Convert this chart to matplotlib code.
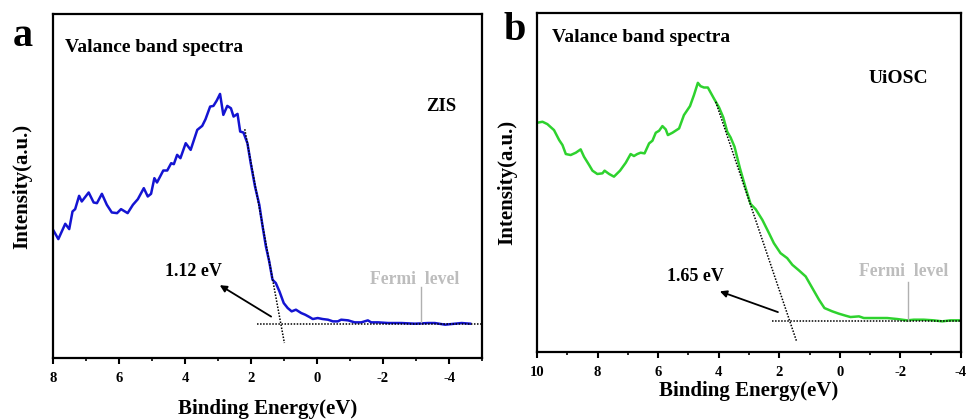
import matplotlib
matplotlib.use("Agg")
import matplotlib.pyplot as plt
from matplotlib.ticker import MultipleLocator, NullLocator

plt.rcParams['font.family'] = ['Liberation Serif', 'DejaVu Serif']
plt.rcParams['font.weight'] = 'bold'
plt.rcParams['axes.unicode_minus'] = False

# Panel a: ZIS
zis_energy = [8.00, 7.84, 7.63, 7.51, 7.41, 7.33, 7.21, 7.13, 6.92, 6.77, 6.67, 6.52, 6.37, 6.22,
              6.06, 5.94, 5.74, 5.58, 5.43, 5.25, 5.13, 5.03, 4.93, 4.85, 4.66, 4.54, 4.42, 4.34,
              4.24, 4.14, 3.98, 3.83, 3.63, 3.48, 3.38, 3.24, 3.14, 3.04, 2.94, 2.84, 2.72, 2.61,
              2.53, 2.41, 2.33, 2.23, 2.11, 2.01, 1.88, 1.75, 1.65, 1.55, 1.45, 1.35, 1.25, 1.14,
              1.01, 0.89, 0.77, 0.64, 0.48, 0.36, 0.23, 0.13, -0.02, -0.17, -0.33, -0.48, -0.63,
              -0.73, -0.94, -1.14, -1.34, -1.54, -1.64, -1.85, -2.15, -2.56, -2.96, -3.37, -3.57,
              -3.88, -4.18, -4.38, -4.64]
zis_intensity = [38.5, 35.7, 40.3, 38.7, 44.0, 44.7, 48.7, 47.0, 49.7, 46.7, 46.5, 49.3, 46.0, 43.7,
                 43.5, 44.7, 43.5, 46.0, 47.7, 51.0, 48.5, 49.3, 54.0, 52.7, 56.3, 56.3, 58.5, 58.2,
                 61.0, 60.0, 64.5, 62.5, 68.5, 69.7, 71.7, 75.5, 75.7, 77.3, 79.3, 73.0, 75.7, 75.0,
                 72.5, 73.3, 68.0, 67.7, 64.5, 58.5, 51.5, 46.0, 39.5, 33.5, 29.0, 23.5, 22.5, 20.0,
                 16.5, 15.0, 14.0, 14.5, 13.5, 13.0, 12.3, 11.7, 12.0, 11.7, 11.5, 11.0, 11.0,
                 11.5, 11.3, 10.7, 10.7, 11.3, 10.7, 10.7, 10.5, 10.5, 10.3, 10.5, 10.5,
                 10.0, 10.3, 10.5, 10.3]

# Panel b: UiOSC
uio_energy = [10.00, 9.82, 9.66, 9.44, 9.27, 9.16, 9.05, 8.89, 8.72, 8.56, 8.45, 8.28, 8.17, 8.01,
              7.84, 7.77, 7.62, 7.46, 7.26, 7.07, 6.91, 6.80, 6.69, 6.58, 6.45, 6.30, 6.19, 6.08,
              5.97, 5.86, 5.75, 5.68, 5.53, 5.31, 5.15, 4.95, 4.82, 4.69, 4.60, 4.49, 4.36, 4.16,
              3.99, 3.85, 3.72, 3.61, 3.48, 3.30, 3.11, 2.95, 2.78, 2.56, 2.34, 2.18, 1.96, 1.74,
              1.57, 1.35, 1.13, 0.91, 0.69, 0.51, 0.25, 0.03, -0.19, -0.35, -0.63, -0.79, -1.12,
              -1.56, -1.89, -2.22, -2.44, -2.77, -3.10, -3.38, -3.65, -4.00]
uio_intensity = [68.9, 69.2, 68.5, 66.7, 63.7, 62.2, 59.5, 59.2, 59.9, 60.9, 58.7, 56.2, 54.5, 53.5,
                 53.7, 54.5, 53.5, 52.7, 54.5, 56.9, 59.5, 58.9, 59.5, 59.9, 59.7, 62.7, 63.5, 65.9,
                 66.5, 67.9, 66.9, 65.2, 65.9, 67.2, 71.2, 73.9, 77.2, 80.9, 79.9, 79.5, 79.5, 76.2,
                 73.5, 70.5, 66.2, 64.5, 61.7, 55.2, 49.2, 44.5, 42.9, 39.7, 35.7, 32.7, 29.7, 28.2,
                 26.2, 24.5, 22.7, 19.2, 15.7, 13.2, 12.2, 11.5, 10.9, 10.5, 10.7, 10.2, 10.2,
                 10.2, 9.9, 9.5, 9.7, 9.7, 9.5, 9.2, 9.5, 9.5]

zis_edge = [(2.19, 68.7), (0.99, 4.5)]
zis_base = [(1.82, 10.3), (-4.99, 10.3)]
zis_arrow = [(1.32, 12.0), (3.02, 22.3)]
zis_fermi = [(-3.15, 21.3), (-3.15, 10.7)]
uio_edge = [(4.10, 75.2), (1.43, 3.2)]
uio_base = [(2.23, 9.4), (-4.0, 9.4)]
uio_arrow = [(1.96, 11.7), (4.05, 18.5)]
uio_fermi = [(-2.24, 20.9), (-2.24, 9.5)]

fig = plt.figure(figsize=(9.68, 4.19), dpi=100)
ax_a = fig.add_axes([0.0548, 0.1456, 0.4432, 0.821])
ax_b = fig.add_axes([0.5548, 0.160, 0.438, 0.809])


def style(ax, xlim, ylim, ticks, xpad, ypad):
    ax.set_xlim(*xlim)
    ax.set_ylim(*ylim)
    ax.set_xticks(ticks)
    ax.xaxis.set_minor_locator(MultipleLocator(1))
    ax.yaxis.set_major_locator(NullLocator())
    for s in ax.spines.values():
        s.set_linewidth(1.6)
    ax.tick_params(axis='x', which='major', direction='out', length=4, width=1.5,
                   labelsize=10.5, pad=6)
    ax.tick_params(axis='x', which='minor', direction='out', length=2.5, width=1.2)
    for lab in ax.get_xticklabels():
        lab.set_fontweight('bold')
    ax.set_xlabel('Binding Energy(eV)', fontsize=15, fontweight='bold', labelpad=xpad)
    ax.set_ylabel('Intensity(a.u.)', fontsize=15, fontweight='bold', labelpad=ypad)


def draw(ax, energy, intensity, color, edge, base, arrow, fermi, value_text, text_pos,
         fermi_pos, sample, sample_pos, sample_size):
    ax.plot(energy, intensity, color=color, lw=1.8)
    ax.plot([p[0] for p in edge], [p[1] for p in edge], color='black', lw=1.1, ls=(0, (1, 1)))
    ax.plot([p[0] for p in base], [p[1] for p in base], color='black', lw=1.1, ls=(0, (1, 1)))
    ax.annotate('', xy=arrow[1], xytext=arrow[0],
                arrowprops=dict(arrowstyle='-|>', color='black', lw=1.3,
                                mutation_scale=10))
    ax.plot([p[0] for p in fermi], [p[1] for p in fermi], color='#b0b0b0', lw=1.0)
    ax.text(text_pos[0], text_pos[1], value_text, fontsize=13, fontweight='bold',
            ha='center', va='center')
    ax.text(fermi_pos[0], fermi_pos[1], 'Fermi  level', fontsize=12.7, fontweight='bold',
            color='#bdbdbd', ha='center', va='center')
    ax.text(sample_pos[0], sample_pos[1], sample, fontsize=sample_size, fontweight='bold',
            ha='center', va='center')


style(ax_a, (8, -5), (0, 103.3), [8, 6, 4, 2, 0, -2, -4], 10, 15)
draw(ax_a, zis_energy, zis_intensity, '#1414d2', zis_edge, zis_base, zis_arrow, zis_fermi,
     '1.12 eV', (3.75, 26.0), (-2.96, 23.7), 'ZIS', (-3.77, 75.5), 13.5)

style(ax_b, (10, -4), (0, 101.9), [10, 8, 6, 4, 2, 0, -2, -4], 1.5, 14)
draw(ax_b, uio_energy, uio_intensity, '#2ed22e', uio_edge, uio_base, uio_arrow, uio_fermi,
     '1.65 eV', (4.76, 22.7), (-2.11, 24.2), 'UiOSC', (-1.94, 82.2), 14)

fig.text(23 / 968, 1 - 37 / 419, 'a', fontsize=29, fontweight='bold', ha='center', va='center')
fig.text(515 / 968, 1 - 30 / 419, 'b', fontsize=29, fontweight='bold', ha='center', va='center')
fig.text(65 / 968, 1 - 48 / 419, 'Valance band spectra', fontsize=14, fontweight='bold',
         ha='left', va='center')
fig.text(552 / 968, 1 - 38 / 419, 'Valance band spectra', fontsize=14, fontweight='bold',
         ha='left', va='center')

fig.savefig('out.png', dpi=100)
